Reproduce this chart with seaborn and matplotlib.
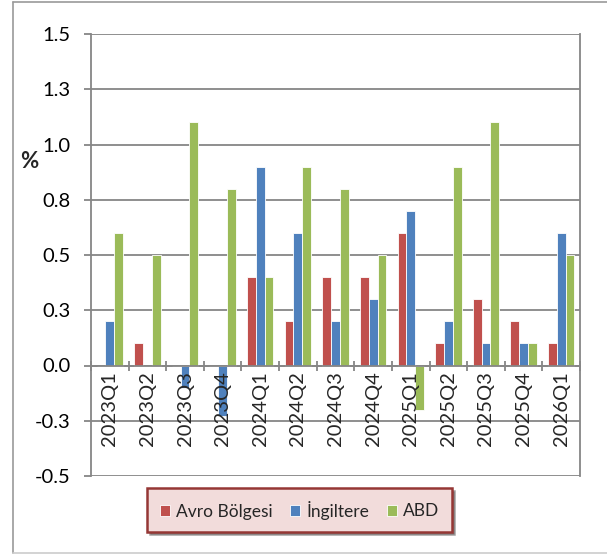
import numpy as np
import pandas as pd
import seaborn as sns
import matplotlib
matplotlib.use("Agg")
import matplotlib.pyplot as plt
from matplotlib.lines import Line2D
from matplotlib.ticker import FixedLocator

quarters = ["2023Q1", "2023Q2", "2023Q3", "2023Q4", "2024Q1", "2024Q2", "2024Q3",
            "2024Q4", "2025Q1", "2025Q2", "2025Q3", "2025Q4", "2026Q1"]
avro = [0.0, 0.1, 0.0, 0.0, 0.4, 0.2, 0.4, 0.4, 0.6, 0.1, 0.3, 0.2, 0.1]
ingiltere = [0.2, 0.0, -0.1, -0.23, 0.9, 0.6, 0.2, 0.3, 0.7, 0.2, 0.1, 0.1, 0.6]
abd = [0.6, 0.5, 1.1, 0.8, 0.4, 0.9, 0.8, 0.5, -0.2, 0.9, 1.1, 0.1, 0.5]
series_names = ["Avro Bölgesi", "İngiltere", "ABD"]
ytick_vals = [-0.5, -0.25, 0.0, 0.25, 0.5, 0.75, 1.0, 1.25, 1.5]
ytick_labels = ["-0.5", "-0.3", "0.0", "0.3", "0.5", "0.8", "1.0", "1.3", "1.5"]

colors = ["#C0504D", "#4F81BD", "#9BBB59"]

df = pd.DataFrame({
    "quarter": quarters * 3,
    "series": [series_names[0]] * len(quarters) + [series_names[1]] * len(quarters) + [series_names[2]] * len(quarters),
    "value": avro + ingiltere + abd,
})

sns.set_style("white")
plt.rcParams["font.family"] = ["Lato", "DejaVu Sans"]

W, H = 607, 554
fig = plt.figure(figsize=(W / 100, H / 100), dpi=100)
ax = fig.add_axes([91 / W, 1 - 476 / H, (580 - 91) / W, (476 - 34) / H])

grey = "#868686"
sns.barplot(data=df, x="quarter", y="value", hue="series", palette=colors,
            order=quarters, hue_order=series_names, width=0.7, ax=ax,
            linewidth=0.6, edgecolor="white", saturation=1, legend=True, zorder=2)
handles, labels = ax.get_legend_handles_labels()
ax.get_legend().remove()

ax.set_ylim(-0.5, 1.5)
ax.set_xlim(-0.5, len(quarters) - 0.5)
ax.yaxis.set_major_locator(FixedLocator(ytick_vals))
ax.set_yticklabels(ytick_labels)
ax.grid(axis="y", color=grey, linewidth=1.3)
ax.set_axisbelow(True)
ax.xaxis.set_zorder(5)

ax.spines["top"].set_visible(False)
for s in ["left", "right", "bottom"]:
    ax.spines[s].set_color(grey)
    ax.spines[s].set_linewidth(1.3)
ax.spines["bottom"].set_position(("data", 0))
ax.spines["bottom"].set_zorder(4)

ax.tick_params(axis="y", which="major", direction="out", length=5, width=1.3,
               color=grey, labelsize=14.5, pad=10, labelcolor="#000000", left=True)
ax.set_xticks(np.arange(len(quarters)))
ax.set_xticklabels(quarters, rotation=90, va="top", ha="center")
ax.tick_params(axis="x", which="major", length=0, labelsize=14.5, pad=4)
ax.set_xticks(np.arange(-0.5, len(quarters), 1.0), minor=True)
ax.tick_params(axis="x", which="minor", direction="inout", length=7, width=1.3,
               color=grey, bottom=True)
ax.set_xlabel("")
ax.set_ylabel("")

fig.text(29 / W, 1 - 162 / H, "%", fontsize=16, fontweight="bold", ha="center", va="center")

leg = fig.legend(handles, labels, loc="center", bbox_to_anchor=(299.5 / W, 1 - 510 / H),
                 ncol=3, frameon=True, fancybox=False, shadow=True, fontsize=12.5,
                 handlelength=0.6, handleheight=0.6, handletextpad=0.35, columnspacing=1.0,
                 borderpad=0.7)
leg.get_frame().set_facecolor("#F2DCDB")
leg.get_frame().set_edgecolor("#953735")
leg.get_frame().set_linewidth(1.8)

# outer chart frame
fig.add_artist(Line2D([13 / W, 13 / W], [1 - 553 / H, 1 - 2 / H], transform=fig.transFigure,
                      color="#9a9a9a", linewidth=1.2))
fig.add_artist(Line2D([13 / W, 1.0], [1 - 2 / H, 1 - 2 / H], transform=fig.transFigure,
                      color="#9a9a9a", linewidth=1.2))
fig.add_artist(Line2D([13 / W, 1.0], [1 - 553 / H, 1 - 553 / H], transform=fig.transFigure,
                      color="#cccccc", linewidth=1.2))

fig.savefig("out.png", dpi=100)
